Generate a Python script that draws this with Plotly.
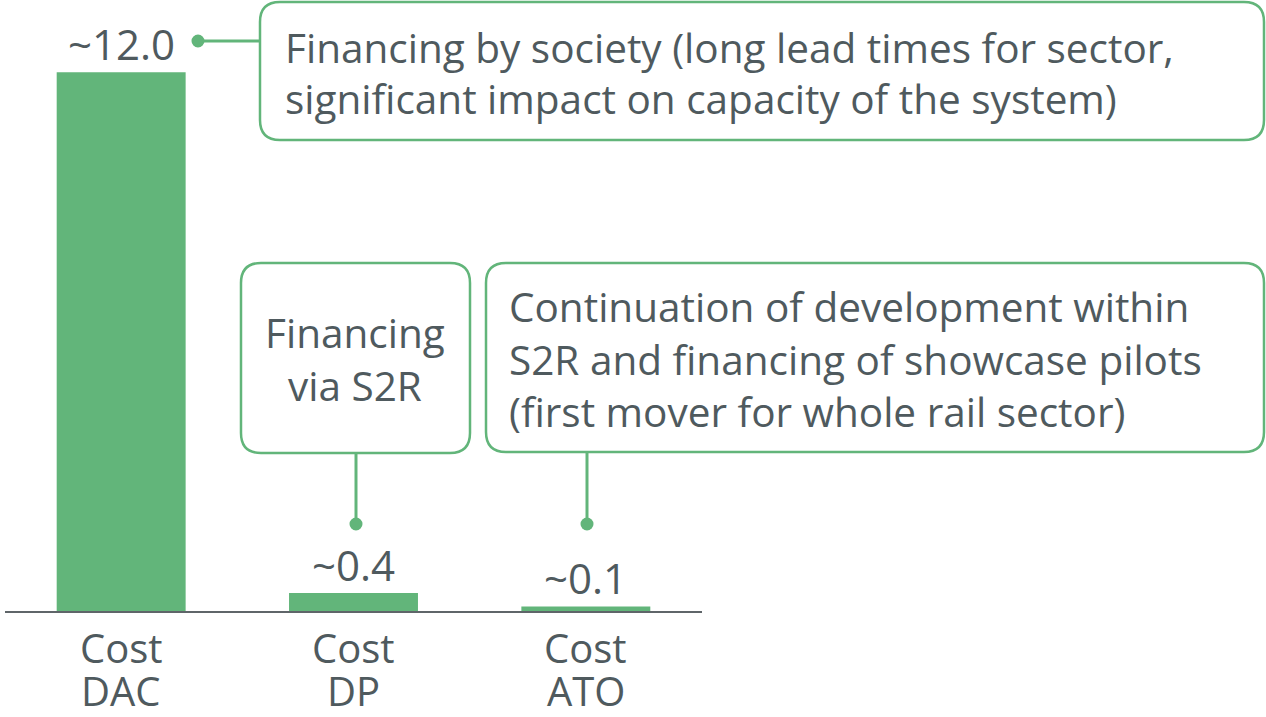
import plotly.graph_objects as go

# ---- data ----
categories = ["Cost DAC", "Cost DP", "Cost ATO"]
values = [12.0, 0.4, 0.1]
value_labels = ["~12.0", "~0.4", "~0.1"]
callout_texts = [
    ["Financing by society (long lead times for sector,",
     "significant impact on capacity of the system)"],
    ["Financing", "via S2R"],
    ["Continuation of development within",
     "S2R and financing of showcase pilots",
     "(first mover for whole rail sector)"],
]

W, H = 1266, 717
GREEN = "#62B57A"
TEXT = "#4F5A5E"
AXIS = "#5F6569"
FONT = "Open Sans"


def px(x):
    return x / W


def py(y):
    return 1 - y / H


fig = go.Figure()
fig.add_trace(go.Bar(x=categories, y=values, width=0.555,
                     marker=dict(color=GREEN, line=dict(width=0)),
                     hoverinfo="skip"))

annotations = []
# value labels above bars
for c, v, t in zip(categories, values, value_labels):
    annotations.append(dict(x=c, y=v, xref="x", yref="y", text=t,
                            showarrow=False, yanchor="middle", yshift=29,
                            font=dict(family=FONT, size=42, color=TEXT)))
# category labels (two lines each)
for c in categories:
    first, second = c.split(" ", 1)
    for line, ypix in ((first, 647), (second, 690)):
        annotations.append(dict(x=c, y=py(ypix), xref="x",
                                yref="paper", text=line, showarrow=False,
                                yanchor="middle",
                                font=dict(family=FONT, size=40, color=TEXT)))


def rounded_box(x0, y0, x1, y1, r=20):
    # pixel coords -> paper path
    def P(x, y):
        return f"{px(x):.5f},{py(y):.5f}"
    return (f"M {P(x0 + r, y0)} L {P(x1 - r, y0)} Q {P(x1, y0)} {P(x1, y0 + r)} "
            f"L {P(x1, y1 - r)} Q {P(x1, y1)} {P(x1 - r, y1)} "
            f"L {P(x0 + r, y1)} Q {P(x0, y1)} {P(x0, y1 - r)} "
            f"L {P(x0, y0 + r)} Q {P(x0, y0)} {P(x0 + r, y0)} Z")


shapes = []
boxes = [(260, 2, 1264, 140), (241, 263, 470, 453), (486, 263, 1264, 452)]
for b in boxes:
    shapes.append(dict(type="path", xref="paper", yref="paper",
                       path=rounded_box(*b), line=dict(color=GREEN, width=2.5),
                       fillcolor="rgba(0,0,0,0)"))

# connectors
conn = [((198, 41), (260, 41)), ((356, 524), (356, 453)), ((587, 524), (587, 452))]
for (xa, ya), (xb, yb) in conn:
    shapes.append(dict(type="line", xref="paper", yref="paper",
                       x0=px(xa), y0=py(ya), x1=px(xb), y1=py(yb),
                       line=dict(color=GREEN, width=3)))
    r = 6.5
    shapes.append(dict(type="circle", xref="paper", yref="paper",
                       x0=px(xa - r), y0=py(ya + r), x1=px(xa + r), y1=py(ya - r),
                       fillcolor=GREEN, line=dict(width=0)))

# callout texts
layouts = [
    dict(x=283, ys=[48, 99], anchor="left"),
    dict(x=355, ys=[333, 385], anchor="center"),
    dict(x=507, ys=[307, 359, 411], anchor="left"),
]
for lines, lay in zip(callout_texts, layouts):
    for line, ypix in zip(lines, lay["ys"]):
        annotations.append(dict(x=px(lay["x"]), y=py(ypix), xref="paper",
                                yref="paper", text=line, showarrow=False,
                                xanchor=lay["anchor"], yanchor="middle",
                                font=dict(family=FONT, size=40.5, color=TEXT)))

fig.update_layout(
    width=W, height=H,
    margin=dict(l=0, r=0, t=0, b=0),
    paper_bgcolor="white", plot_bgcolor="white",
    showlegend=False,
    xaxis=dict(domain=[px(5), px(702)], range=[-0.5, 2.5],
               showline=True, linecolor=AXIS, linewidth=2,
               showticklabels=False, ticks="", showgrid=False, zeroline=False,
               fixedrange=True),
    yaxis=dict(domain=[py(611), 1], range=[0, 610 / 44.83], visible=False,
               fixedrange=True),
    annotations=annotations,
    shapes=shapes,
)

fig.write_html("out.html",
               config={"displayModeBar": False},
               post_script="document.body.style.margin='0';"
                           "document.body.style.overflow='hidden';")
